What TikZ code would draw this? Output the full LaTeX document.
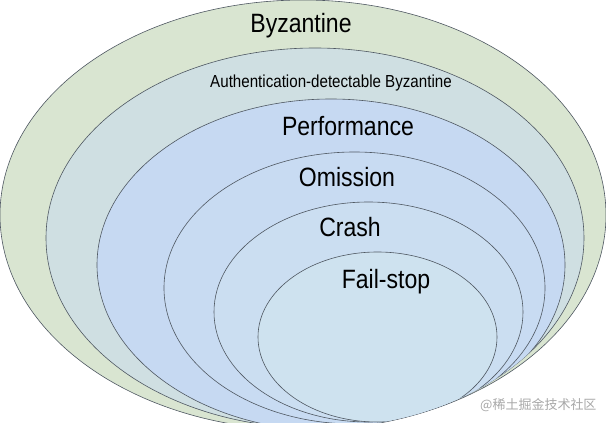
\documentclass[tikz,border=0pt]{standalone}
\usepackage{fontspec}
\setmainfont{Liberation Sans}
\newfontfamily\cjk{Noto Sans CJK SC}
\definecolor{cbyz}{HTML}{D9E5D1}
\definecolor{cauth}{HTML}{CFDFE2}
\definecolor{cperf}{HTML}{C6D9F2}
\definecolor{comis}{HTML}{C8DBF2}
\definecolor{ccrash}{HTML}{CBDEF1}
\definecolor{cfail}{HTML}{CEE2EF}
\definecolor{linec}{HTML}{4F5862}
\definecolor{wmgray}{HTML}{A8A8A8}
\begin{document}
\begin{tikzpicture}[x=1pt,y=-1pt,
  ring/.style={draw=linec, line width=0.6pt},
  lab/.style={anchor=base, inner sep=0pt, font=\fontsize{26.5}{30}\selectfont, text=black},
  smalllab/.style={anchor=base, inner sep=0pt, font=\fontsize{17.4}{20}\selectfont, text=black}]
\useasboundingbox (0,0) rectangle (606,423);
\fill[white] (0,0) rectangle (606,423);
% Byzantine
\path[ring, fill=cbyz] (303,215) ellipse [x radius=303pt, y radius=215pt];
\begin{scope}
  \clip (303,215) ellipse [x radius=303pt, y radius=215pt];
  % Authentication-detectable Byzantine
  \path[ring, fill=cauth] (315,238) ellipse [x radius=269pt, y radius=190pt];
  \begin{scope}
    \clip (315,238) ellipse [x radius=269pt, y radius=190pt];
    % Performance
    \path[ring, fill=cperf] (331,265) ellipse [x radius=234pt, y radius=166pt];
    \begin{scope}
      \clip (331,265) ellipse [x radius=234pt, y radius=166pt];
      % Omission
      \path[ring, fill=comis] (354.5,288) ellipse [x radius=190.5pt, y radius=136pt];
      \begin{scope}
        \clip (354.5,288) ellipse [x radius=190.5pt, y radius=136pt];
        % Crash
        \path[ring, fill=ccrash] (368.5,312) ellipse [x radius=154.5pt, y radius=110pt];
        \begin{scope}
          \clip (368.5,312) ellipse [x radius=154.5pt, y radius=110pt];
          % Fail-stop
          \path[ring, fill=cfail] (377.5,337) ellipse [x radius=119.5pt, y radius=85pt];
        \end{scope}
      \end{scope}
    \end{scope}
  \end{scope}
\end{scope}
\node[lab] (byz) at (301,32) {\scalebox{0.87}[1]{Byzantine}};
\node[smalllab] (auth) at (331,87) {\scalebox{0.87}[1]{Authentication-detectable Byzantine}};
\node[lab] (perf) at (348,135) {\scalebox{0.87}[1]{Performance}};
\node[lab] (omis) at (347,186) {\scalebox{0.87}[1]{Omission}};
\node[lab] (crash) at (350,236) {\scalebox{0.87}[1]{Crash}};
\node[lab] (fail) at (386,288) {\scalebox{0.87}[1]{Fail-stop}};
\node[anchor=base west, inner sep=0pt, font=\cjk\fontsize{13}{13}\selectfont, text=wmgray] (wm) at (480,409) {@稀土掘金技术社区};
\end{tikzpicture}
\end{document}
